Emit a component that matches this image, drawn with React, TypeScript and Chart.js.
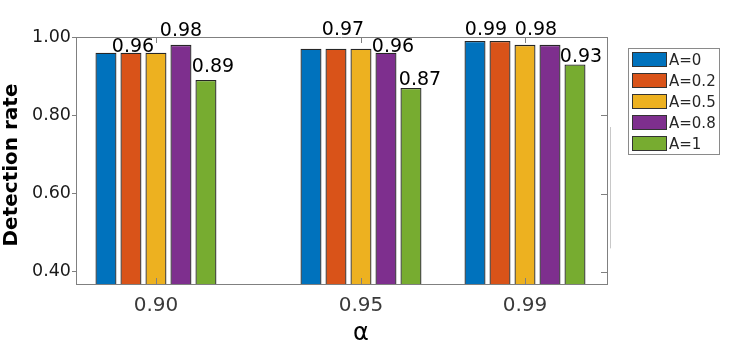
import React, { useEffect, useRef } from "react";
import { Chart, registerables } from "chart.js";

Chart.register(...registerables);

// ---- data ----
const alphas = [0.9, 0.95, 0.99];
const seriesNames = ["A=0", "A=0.2", "A=0.5", "A=0.8", "A=1"];
const seriesA0 = [0.96, 0.97, 0.99];
const seriesA02 = [0.96, 0.97, 0.99];
const seriesA05 = [0.96, 0.97, 0.98];
const seriesA08 = [0.98, 0.96, 0.98];
const seriesA1 = [0.89, 0.87, 0.93];
const yTickValues = [0.4, 0.6, 0.8, 1.0];
const yTitle = "Detection rate";
const xTitle = "α";
// which series carry a visible value label, per alpha group
const labelSeries = [
  [1, 3, 4],
  [1, 3, 4],
  [0, 2, 4],
];

// ---- style ----
const colors = ["#0072BD", "#D95319", "#EDB120", "#7E2F8E", "#77AC30"];
const FONT = "'DejaVu Sans', sans-serif";
const AXIS_GRAY = "#808080";
// label offsets (px) relative to bar centre / bar top
const labelOffsets = [
  [[2, -1], [0, -9], [7, -8]],
  [[7, -14], [7, -1], [9, -3]],
  [[11, -6], [11, -10], [6, -2]],
];

const allSeries = [seriesA0, seriesA02, seriesA05, seriesA08, seriesA1];

const framePlugin = {
  id: "frame",
  afterDatasetsDraw(chart: any) {
    const { ctx, chartArea } = chart;
    const { left, right, top, bottom } = chartArea;
    const xs = chart.scales.x;
    const ys = chart.scales.y;
    ctx.save();
    ctx.strokeStyle = AXIS_GRAY;
    ctx.lineWidth = 1;
    ctx.beginPath();
    ctx.moveTo(left, top + 0.5);
    ctx.lineTo(right, top + 0.5);
    ctx.moveTo(right + 0.5, top);
    ctx.lineTo(right + 0.5, bottom);
    // inward ticks
    yTickValues.forEach((v) => {
      const y = Math.round(ys.getPixelForValue(v)) + 0.5;
      ctx.moveTo(right, y);
      ctx.lineTo(right - 6, y);
    });
    alphas.forEach((a) => {
      const x = Math.round(xs.getPixelForValue(a)) + 0.5;
      ctx.moveTo(x, bottom);
      ctx.lineTo(x, bottom - 6);
      ctx.moveTo(x, top);
      ctx.lineTo(x, top + 6);
    });
    ctx.stroke();
    // faint stray line at right
    ctx.strokeStyle = "#c8c8c8";
    ctx.beginPath();
    ctx.moveTo(right + 3.5, ys.getPixelForValue(0.77));
    ctx.lineTo(right + 3.5, ys.getPixelForValue(0.46));
    ctx.stroke();

    // y-axis title
    ctx.save();
    ctx.translate(12, 165);
    ctx.rotate(-Math.PI / 2);
    ctx.fillStyle = "#000";
    ctx.font = `bold 20px ${FONT}`;
    ctx.textAlign = "center";
    ctx.textBaseline = "middle";
    ctx.fillText(yTitle, 0, 0);
    ctx.restore();

    // x-axis title
    ctx.fillStyle = "#000";
    ctx.font = `24px ${FONT}`;
    ctx.textAlign = "center";
    ctx.textBaseline = "alphabetic";
    ctx.fillText(xTitle, xs.getPixelForValue(alphas[1]), 340);

    // value labels
    ctx.fillStyle = "#000";
    ctx.font = `19px ${FONT}`;
    ctx.textAlign = "center";
    ctx.textBaseline = "alphabetic";
    labelSeries.forEach((list, g) => {
      list.forEach((s, k) => {
        const el = chart.getDatasetMeta(s).data[g];
        const [dx, dy] = labelOffsets[g][k];
        ctx.fillText(allSeries[s][g].toFixed(2), el.x + dx, el.y + dy);
      });
    });

    // legend
    const lx = 628, ly = 48, lw = 91, lh = 106;
    ctx.fillStyle = "#fff";
    ctx.fillRect(lx, ly, lw, lh);
    ctx.strokeStyle = "#8a8a8a";
    ctx.strokeRect(lx + 0.5, ly + 0.5, lw, lh);
    ctx.font = `15px ${FONT}`;
    ctx.textAlign = "left";
    seriesNames.forEach((name, i) => {
      const sy = 52 + i * 21;
      ctx.fillStyle = colors[i];
      ctx.fillRect(632, sy, 34, 14);
      ctx.strokeStyle = "#333";
      ctx.strokeRect(632.5, sy + 0.5, 34, 14);
      ctx.fillStyle = "#262626";
      ctx.fillText(name, 669, sy + 13);
    });
    ctx.restore();
  },
};

export default function App() {
  const ref = useRef<HTMLCanvasElement>(null);
  useEffect(() => {
    if (!ref.current) return;
    const chart = new Chart(ref.current, {
      type: "bar",
      data: {
        datasets: allSeries.map((vals, i) => ({
          label: seriesNames[i],
          data: alphas.map((a, j) => ({ x: a, y: vals[j] })),
          backgroundColor: colors[i],
          borderColor: "#262626",
          borderWidth: 1.3,
          borderSkipped: false,
          categoryPercentage: 0.762,
          barPercentage: 0.84,
        })),
      },
      options: {
        responsive: false,
        devicePixelRatio: 1,
        animation: false,
        layout: { padding: { left: 0, right: 126, top: 37, bottom: 0 } },
        plugins: { legend: { display: false }, tooltip: { enabled: false } },
        scales: {
          x: {
            type: "linear",
            offset: false,
            min: 0.8805,
            max: 1.01,
            afterBuildTicks: (s: any) => {
              s.ticks = alphas.map((v) => ({ value: v }));
            },
            afterFit: (s: any) => {
              s.height = 59;
            },
            grid: { display: false, drawTicks: false },
            border: { display: true, color: AXIS_GRAY, width: 1 },
            ticks: {
              callback: (v: any) => Number(v).toFixed(2),
              font: { family: FONT, size: 20 },
              color: "#3a3a3a",
              padding: 10,
              maxRotation: 0,
              autoSkip: false,
            },
            title: { display: false },
          },
          y: {
            min: 0.369,
            max: 1.0,
            afterBuildTicks: (s: any) => {
              s.ticks = yTickValues.map((v) => ({ value: v }));
            },
            afterFit: (s: any) => {
              s.width = 76;
            },
            grid: {
              display: true,
              drawOnChartArea: false,
              drawTicks: true,
              tickLength: 4,
              color: AXIS_GRAY,
            },
            border: { display: true, color: AXIS_GRAY, width: 1 },
            ticks: {
              callback: (v: any) => Number(v).toFixed(2),
              font: { family: FONT, size: 17.5 },
              color: "#1a1a1a",
              padding: 1,
            },
            title: { display: false },
          },
        },
      },
      plugins: [framePlugin],
    } as any);
    return () => chart.destroy();
  }, []);
  return (
    <div style={{ position: "absolute", left: 0, top: 0, width: 733, height: 343, background: "#fff" }}>
      <canvas ref={ref} width={733} height={343} style={{ width: 733, height: 343, display: "block" }} />
    </div>
  );
}
